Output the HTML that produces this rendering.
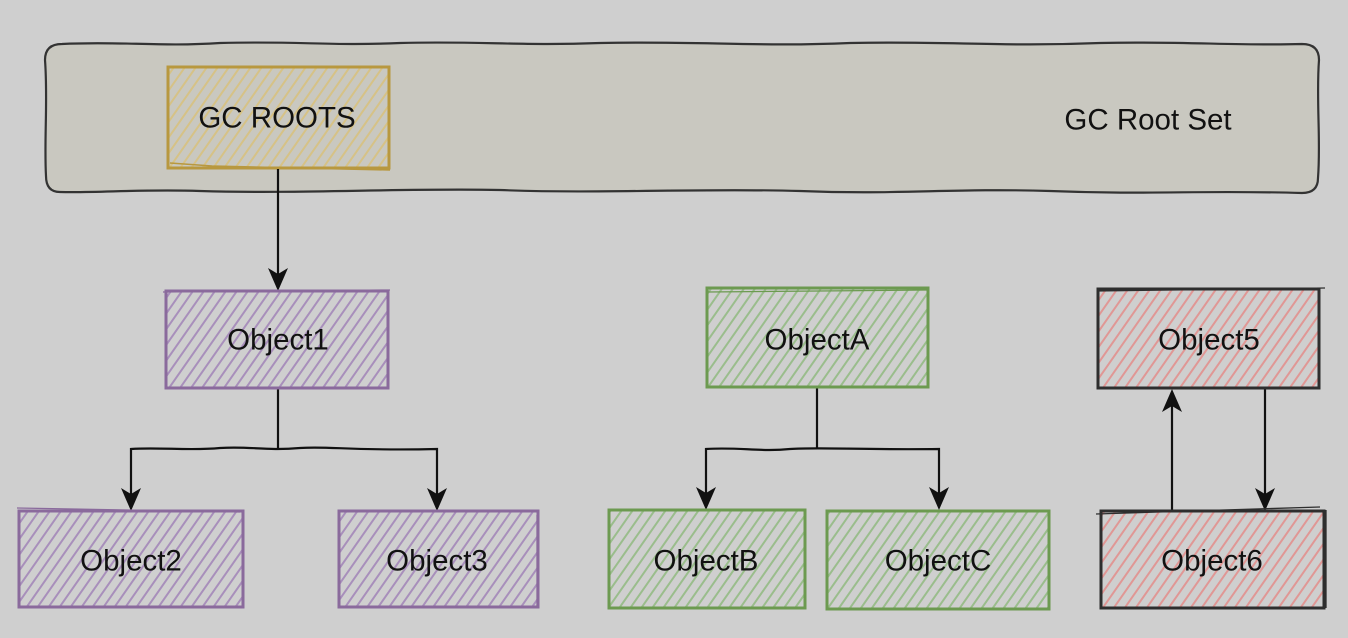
<!DOCTYPE html>
<html>
<head>
<meta charset="utf-8">
<style>
html,body{margin:0;padding:0;background:#cfcfcf;}
svg{display:block;}
text{font-family:"Liberation Sans",Arial,sans-serif;font-size:29.5px;fill:#111;text-anchor:middle;dominant-baseline:central;}
</style>
</head>
<body>
<svg width="1348" height="638" viewBox="0 0 1348 638" xmlns="http://www.w3.org/2000/svg">
<defs>
  <pattern id="hp" patternUnits="userSpaceOnUse" width="9" height="9" patternTransform="rotate(35)">
    <rect x="0" y="0" width="2" height="9" fill="#a88fbb"/>
  </pattern>
  <pattern id="hg" patternUnits="userSpaceOnUse" width="9" height="9" patternTransform="rotate(35)">
    <rect x="0" y="0" width="2" height="9" fill="#9abd8c"/>
  </pattern>
  <pattern id="hr" patternUnits="userSpaceOnUse" width="9" height="9" patternTransform="rotate(35)">
    <rect x="0" y="0" width="2" height="9" fill="#e09795"/>
  </pattern>
  <pattern id="hy" patternUnits="userSpaceOnUse" width="9" height="9" patternTransform="rotate(35)">
    <rect x="0" y="0" width="2" height="9" fill="#d6c286"/>
  </pattern>
</defs>

<rect width="1348" height="638" fill="#cfcfcf"/>

<!-- GC Root Set container -->
<path d="M62 44 C120 41 160 47 220 43 C300 41 330 46 400 43 C480 41 520 46 600 43 C700 41 760 47 850 43 C950 41 1000 47 1100 43 C1180 41 1240 46 1302 44 Q1319 44 1319 60 C1316 100 1321 140 1318 178 Q1318 193 1302 193 C1200 190 1150 195 1050 191 C950 188 900 195 800 191 C700 188 600 194 500 190 C400 188 300 194 200 191 C140 189 100 193 60 192 Q46 192 46 176 C44 140 48 100 45 60 Q45 44 62 44 Z" fill="#c9c8c0" stroke="#333" stroke-width="2.2"/>
<text x="1148" y="120">GC Root Set</text>

<!-- GC ROOTS -->
<rect x="168" y="67" width="221" height="101" fill="url(#hy)" stroke="#b8983f" stroke-width="3"/>
<path d="M170 163 L212 166 L390 170" fill="none" stroke="#b8983f" stroke-width="1.5"/>
<text x="277" y="118">GC ROOTS</text>

<!-- connectors -->
<g fill="none" stroke="#111" stroke-width="2.2">
  <path d="M278 169 L278 276"/>
  <path d="M278 389 L278 449"/>
  <path d="M131 496 L131 449 C160 447 190 451 220 448 C250 446 265 451 300 448 C330 446 350 451 437 449 L437 496"/>
  <path d="M817 388 L817 449"/>
  <path d="M706 496 L706 449 C740 447 760 452 790 449 C820 447 860 450 939 449 L939 496"/>
  <path d="M1172 510 L1172 404"/>
  <path d="M1265 389 L1265 496"/>
</g>
<g fill="#111">
  <path d="M278 291 L268 268 L278 274 L288 268 Z"/>
  <path d="M131 511 L121 488 L131 494 L141 488 Z"/>
  <path d="M437 511 L427 488 L437 494 L447 488 Z"/>
  <path d="M706 510 L696 487 L706 493 L716 487 Z"/>
  <path d="M939 510 L929 487 L939 493 L949 487 Z"/>
  <path d="M1172 389 L1162 412 L1172 406 L1182 412 Z"/>
  <path d="M1265 511 L1255 488 L1265 494 L1275 488 Z"/>
</g>

<!-- Object1 -->
<rect x="166" y="291" width="222" height="97" fill="url(#hp)" stroke="#8a6a9c" stroke-width="3"/>
<path d="M163 292 L390 290" fill="none" stroke="#8a6a9c" stroke-width="1.3"/>
<text x="278" y="340">Object1</text>
<!-- Object2 -->
<rect x="19" y="511" width="224" height="96" fill="url(#hp)" stroke="#8a6a9c" stroke-width="3"/>
<path d="M17 508 L240 512" fill="none" stroke="#8a6a9c" stroke-width="1.3"/>
<text x="131" y="561">Object2</text>
<!-- Object3 -->
<rect x="339" y="511" width="199" height="96" fill="url(#hp)" stroke="#8a6a9c" stroke-width="3"/>
<path d="M537 515 L537 606" fill="none" stroke="#8a6a9c" stroke-width="1.3"/>
<text x="437" y="561">Object3</text>

<!-- ObjectA -->
<rect x="707" y="288" width="221" height="99" fill="url(#hg)" stroke="#6c9a50" stroke-width="3"/>
<path d="M708 292 L928 290" fill="none" stroke="#6c9a50" stroke-width="1.3"/>
<text x="817" y="340">ObjectA</text>
<!-- ObjectB -->
<rect x="609" y="510" width="196" height="98" fill="url(#hg)" stroke="#6c9a50" stroke-width="3"/>
<text x="706" y="561">ObjectB</text>
<!-- ObjectC -->
<rect x="827" y="511" width="222" height="98" fill="url(#hg)" stroke="#6c9a50" stroke-width="3"/>
<text x="938" y="561">ObjectC</text>

<!-- Object5 -->
<rect x="1098" y="289" width="221" height="99" fill="url(#hr)" stroke="#2e2e2e" stroke-width="3"/>
<path d="M1098 291 L1325 288" fill="none" stroke="#2e2e2e" stroke-width="1.3"/>
<text x="1209" y="340">Object5</text>
<!-- Object6 -->
<rect x="1101" y="511" width="223" height="97" fill="url(#hr)" stroke="#2e2e2e" stroke-width="3"/>
<path d="M1096 514 L1320 507 M1326 510 L1326 608" fill="none" stroke="#2e2e2e" stroke-width="1.3"/>
<text x="1212" y="561">Object6</text>
</svg>
</body>
</html>
